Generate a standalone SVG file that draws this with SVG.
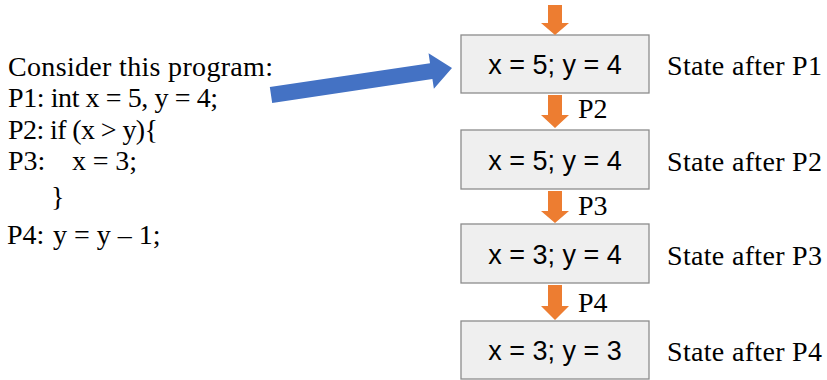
<svg xmlns="http://www.w3.org/2000/svg" width="827" height="380" viewBox="0 0 827 380">
<style>
.prog{font-family:"Liberation Serif","Times New Roman",serif;font-size:28px;fill:#000}
.state{font-family:"Liberation Serif","Times New Roman",serif;font-size:28px;fill:#000}
.box{fill:#efefef;stroke:#8c8c8c;stroke-width:1.3}
.val{font-family:"Liberation Sans",Arial,sans-serif;font-size:27px;fill:#000;text-anchor:middle}
.orange{fill:#ed7d31}
.blue{fill:#4472c4}
</style>
<rect width="827" height="380" fill="#fff"/>
<g id="program">
<text class="prog" x="8" y="76" textLength="265">Consider this program:</text>
<text class="prog" x="8" y="107" textLength="210">P1: int x = 5, y = 4;</text>
<text class="prog" x="8" y="139" textLength="150">P2: if (x &gt; y){</text>
<text class="prog" x="8" y="170">P3:</text>
<text class="prog" x="72" y="170" textLength="65">x = 3;</text>
<text class="prog" x="51" y="206">}</text>
<text class="prog" x="7" y="244">P4:</text>
<text class="prog" x="53" y="244">y = y – 1;</text>
</g>
<g id="state1">
<rect class="box" x="461" y="35" width="188" height="58"/>
<text class="val" x="555" y="74">x = 5; y = 4</text>
<text class="state" x="667" y="75" textLength="155">State after P1</text>
</g>
<g id="state2">
<rect class="box" x="461" y="130" width="188" height="59"/>
<text class="val" x="555" y="170">x = 5; y = 4</text>
<text class="state" x="667" y="171" textLength="155">State after P2</text>
</g>
<g id="state3">
<rect class="box" x="461" y="224" width="188" height="59"/>
<text class="val" x="555" y="264">x = 3; y = 4</text>
<text class="state" x="667" y="265" textLength="155">State after P3</text>
</g>
<g id="state4">
<rect class="box" x="461" y="321" width="188" height="58"/>
<text class="val" x="555" y="360">x = 3; y = 3</text>
<text class="state" x="667" y="361" textLength="155">State after P4</text>
</g>
<g id="connectors">
<polygon class="blue" transform="translate(271,95) rotate(-8.5)" points="0,-8 162,-8 162,-18 183,0 162,18 162,8 0,8"/>
<polygon class="orange" points="548,5 562,5 562,23 569,23 555,35 541,23 548,23"/>
<polygon class="orange" points="548,95 562,95 562,115 569,115 555,128 541,115 548,115"/>
<polygon class="orange" points="548,191 562,191 562,211 569,211 555,223 541,211 548,211"/>
<polygon class="orange" points="548,285 562,285 562,306 569,306 555,320 541,306 548,306"/>
<text class="prog" x="578" y="118">P2</text>
<text class="prog" x="578" y="215">P3</text>
<text class="prog" x="578" y="312">P4</text>
</g>
</svg>
